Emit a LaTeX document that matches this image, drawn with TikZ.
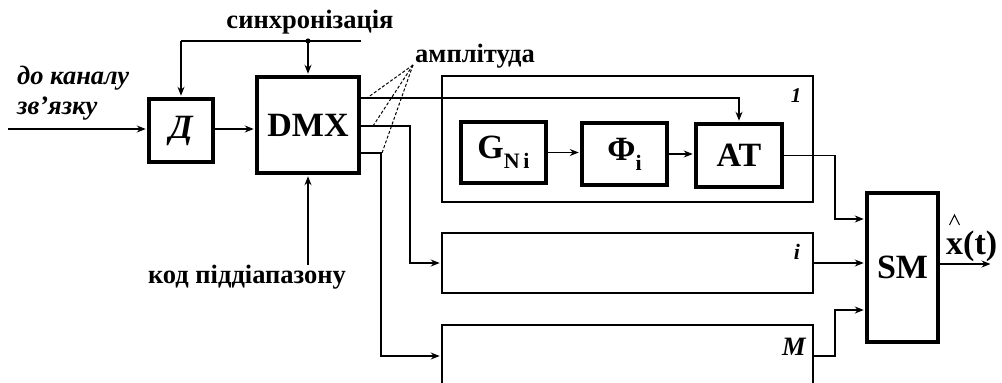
\documentclass[tikz,border=0pt]{standalone}
\usepackage{fontspec}
\setmainfont{Liberation Serif}
\usetikzlibrary{arrows.meta,calc}
\tikzset{
  thickbox/.style={draw, line width=3.5pt, inner sep=0pt, font=\fontsize{34}{40}\selectfont\bfseries},
  thinbox/.style={draw, line width=1.6pt, inner sep=0pt},
  wire/.style={line width=1.6pt},
  flow/.style={wire, -{Stealth[length=9pt,width=7pt,inset=3pt]}, shorten >=1.5pt},
  lbl/.style={font=\fontsize{26.5}{30}\selectfont\bfseries, inner sep=0pt},
  itlbl/.style={font=\fontsize{26.5}{30}\selectfont\bfseries\itshape, inner sep=0pt},
  amp/.style={line width=1pt, dash pattern=on 3pt off 2pt},
}
\begin{document}
\begin{tikzpicture}[x=1pt,y=-1pt]
\useasboundingbox (0,0) rectangle (1002,383);
\clip (0,0) rectangle (1002,383);

% main blocks
\node[thickbox, minimum width=64pt, minimum height=63pt] (dec) at (181,130.5) {\itshape Д};
\node[thickbox, minimum width=102pt, minimum height=96pt] (dmx) at (308,125) {DMX};

% subband channels
\node[thinbox, minimum width=371pt, minimum height=126pt] (ch1) at (627.5,139) {};
\node[thinbox, minimum width=371pt, minimum height=60pt] (chi) at (627.5,263) {};
\node[thinbox, minimum width=371pt, minimum height=120pt] (chM) at (627.5,385) {};
\node[itlbl, font=\fontsize{21}{24}\selectfont\bfseries\itshape] (n1) at (796,96) {1};
\node[itlbl, font=\fontsize{22}{24}\selectfont\bfseries\itshape] (ni) at (797,252) {i};
\node[itlbl] (nM) at (794,347) {M};

% channel 1 internals
\node[thickbox, minimum width=85pt, minimum height=61pt] (gen) at (503.5,152.5)
  {G\raisebox{-0.3em}{\fontsize{22}{24}\selectfont N\,i}};
\node[thickbox, minimum width=85pt, minimum height=62pt] (phi) at (624.5,154)
  {Φ\raisebox{-0.3em}{\fontsize{22}{24}\selectfont i}};
\node[thickbox, minimum width=86pt, minimum height=63pt] (at) at (739,155.5) {AT};

% summator
\node[thickbox, minimum width=71pt, minimum height=149pt] (sm) at (902.5,267.5) {SM};

% labels
\node[lbl, anchor=base] (synclbl) at (310,28) {синхронізація};
\node[lbl, anchor=base west] (amplbl) at (415,62) {амплітуда};
\node[lbl, anchor=base] (codelbl) at (247,283) {код піддіапазону};
\node[itlbl, anchor=base west] (inlbl1) at (17,84) {до каналу};
\node[itlbl, anchor=base west] (inlbl2) at (17,114) {зв’язку};
\node[inner sep=0pt, anchor=base west, font=\fontsize{34}{40}\selectfont\bfseries] (outlbl) at (946,254) {x(t)};
% estimate hat over x
\draw[line width=1pt] ([xshift=3.5pt,yshift=29pt]outlbl.base west) -- ++(5,-10) -- ++(5,10);

% input and decoder
\coordinate (in) at (8,129);
\draw[flow] (in) -- (in -| dec.west);
\draw[flow] (in -| dec.east) -- (in -| dmx.west);

% synchronisation bus
\coordinate (sy) at (0,41);
\coordinate (syncR) at (361,41);
\draw[wire] (sy -| dec.north) -- (syncR);
\draw[flow] (sy -| dec.north) -- (dec.north);
\fill (sy -| dmx.north) circle (2.6pt);
\draw[flow] (sy -| dmx.north) -- (dmx.north);

% subband code
\coordinate (code) at (0,265);
\draw[flow] (code -| dmx.south) -- (dmx.south);

% demultiplexer outputs
\coordinate (o1) at (dmx.east |- 0,98);
\coordinate (o2) at (dmx.east |- 0,126);
\coordinate (o3) at (dmx.east |- 0,153);
\coordinate (b2) at (410,126);
\coordinate (b3) at (381,153);
\coordinate (mrow) at (0,356);
\draw[flow] (o1) -| (at.north);
\draw[flow] (o2) -- (b2) |- (chi.west);
\draw[flow] (o3) -- (b3) |- (mrow -| chM.west);

% amplitude marks
\coordinate (apex) at (413,65);
\draw[amp] (apex) -- (367,98);
\draw[amp] (apex) -- (373,126);
\draw[amp] (apex) -- (382,153);

% channel 1 chain
\draw[flow] (gen.east) -- (gen.east -| phi.west);
\draw[flow] (phi.east) -- (phi.east -| at.west);

% into the summator
\coordinate (cA) at (835,219);
\coordinate (cM) at (835,310);
\draw[flow] (at.east) -| (cA) -- (cA -| sm.west);
\draw[flow] (chi.east) -- (chi.east -| sm.west);
\draw[flow] (mrow -| chM.east) -| (cM) -- (cM -| sm.west);

% output
\coordinate (xout) at (992,264);
\draw[flow] (sm.east |- xout) -- (xout);
\end{tikzpicture}
\end{document}
